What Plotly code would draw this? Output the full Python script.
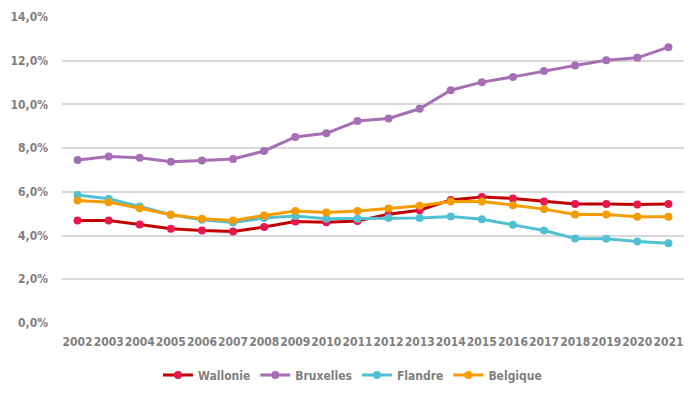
import plotly.graph_objects as go

years = [str(y) for y in range(2002, 2022)]
wallonie = [4.69, 4.69, 4.51, 4.31, 4.23, 4.19, 4.39, 4.64, 4.61, 4.67, 4.98, 5.16, 5.63, 5.76, 5.70, 5.56, 5.44, 5.44, 5.42, 5.45]
bruxelles = [7.46, 7.62, 7.56, 7.38, 7.44, 7.50, 7.87, 8.51, 8.68, 9.24, 9.36, 9.80, 10.65, 11.02, 11.26, 11.53, 11.78, 12.02, 12.13, 12.62]
flandre = [5.86, 5.68, 5.33, 4.95, 4.72, 4.60, 4.80, 4.90, 4.77, 4.77, 4.80, 4.80, 4.87, 4.75, 4.49, 4.23, 3.87, 3.85, 3.73, 3.65]
belgique = [5.60, 5.53, 5.25, 4.95, 4.77, 4.69, 4.92, 5.12, 5.06, 5.12, 5.24, 5.36, 5.56, 5.56, 5.39, 5.21, 4.96, 4.96, 4.86, 4.86]
y_ticks = [0, 2, 4, 6, 8, 10, 12, 14]
y_tick_labels = ["0,0%", "2,0%", "4,0%", "6,0%", "8,0%", "10,0%", "12,0%", "14,0%"]

FONT = "DejaVu Sans Condensed, Liberation Sans Narrow, sans-serif"
GRAY = "#7f7f7f"

series = [
    ("Wallonie", wallonie, "#c00000", "#e8174f"),
    ("Bruxelles", bruxelles, "#a66fb5", "#a66fb5"),
    ("Flandre", flandre, "#4fc1d3", "#4fc1d3"),
    ("Belgique", belgique, "#f59c00", "#f59c00"),
]

fig = go.Figure()
for name, vals, lc, mc in series:
    fig.add_trace(go.Scatter(
        x=years, y=vals, name=name, mode="lines+markers",
        line=dict(color=lc, width=3),
        marker=dict(color=mc, size=8),
    ))

fig.update_layout(
    width=692, height=391,
    margin=dict(l=54, r=16, t=9, b=76),
    paper_bgcolor="white", plot_bgcolor="white",
    font=dict(family=FONT, color=GRAY, size=12),
    showlegend=True,
    legend=dict(orientation="h", x=0.467, xanchor="center", y=-0.17, yanchor="middle",
                font=dict(family=FONT, size=12, color=GRAY, weight="bold"),
                itemwidth=30, tracegroupgap=0),
)
fig.update_xaxes(
    type="category", range=[-0.5, 19.5], showgrid=False, showline=False, zeroline=False,
    ticks="", tickangle=0, automargin=False,
    tickfont=dict(family=FONT, size=12, color=GRAY, weight="bold"),
    ticklabelstandoff=10,
)
fig.update_yaxes(
    range=[0, 14], tickvals=y_ticks, ticktext=y_tick_labels,
    showgrid=True, gridcolor="#d9d9d9", gridwidth=1.5, zeroline=False, showline=False,
    ticks="", automargin=False,
    tickfont=dict(family=FONT, size=12, color=GRAY, weight="bold"),
    ticklabelstandoff=13,
)

fig.write_html("out.html")
